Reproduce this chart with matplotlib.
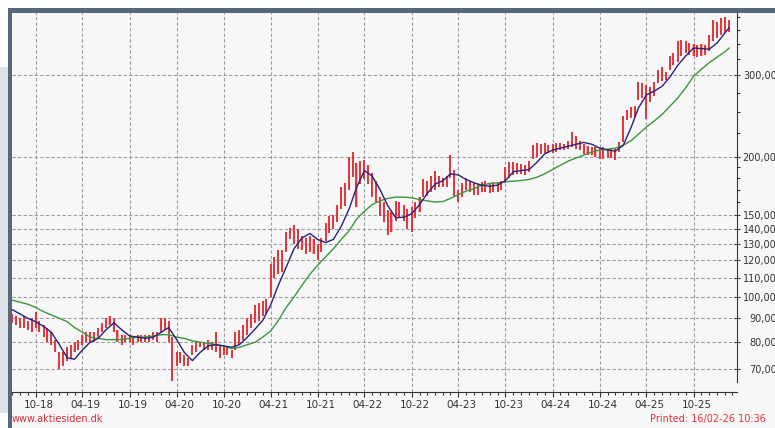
import numpy as np
import pandas as pd
import matplotlib
matplotlib.use('Agg')
import matplotlib.pyplot as plt
import matplotlib.dates as mdates
import matplotlib.transforms as mtransforms
from matplotlib.patches import Rectangle
from matplotlib.ticker import FixedLocator, NullFormatter

# half-monthly bars (1st and 15th), Jul-2018 .. Feb-2026
barStart = '2018-07-01'
lows = [88, 87, 86, 86, 85, 84, 86, 84, 82, 80, 79, 76,
        70, 71, 73, 74, 76, 77, 79, 80, 80, 80, 82, 84,
        86, 87, 84, 80, 79, 80, 80, 79, 80, 80, 80, 80,
        81, 80, 84, 85, 80, 66, 71, 72, 71, 71, 75, 76,
        78, 77, 77, 77, 76, 74, 75, 75, 74, 77, 79, 81,
        83, 86, 88, 89, 91, 92, 100, 110, 112, 113, 125, 133,
        130, 127, 126, 124, 125, 124, 120, 125, 132, 137, 140, 145,
        155, 157, 170, 181, 156, 175, 179, 175, 164, 160, 149, 145,
        136, 138, 146, 148, 146, 140, 138, 148, 152, 164, 165, 168,
        170, 172, 172, 172, 180, 165, 160, 164, 170, 168, 166, 166,
        168, 168, 167, 168, 168, 170, 176, 180, 183, 184, 184, 183,
        186, 198, 200, 203, 204, 204, 204, 205, 207, 207, 208, 210,
        208, 207, 203, 202, 202, 200, 198, 198, 199, 199, 197, 205,
        215, 240, 243, 244, 265, 268, 242, 262, 270, 288, 292, 293,
        308, 315, 320, 330, 335, 332, 330, 328, 330, 332, 338, 355,
        360, 365, 370, 372]
highs = [92, 91, 90, 91, 89, 90, 93, 89, 87, 86, 84, 81,
         76, 76, 78, 79, 80, 81, 83, 84, 84, 84, 86, 88,
         90, 91, 90, 85, 83, 83, 83, 82, 83, 83, 83, 83,
         84, 84, 90, 90, 89, 82, 76, 76, 75, 74, 79, 80,
         80, 80, 81, 80, 84, 79, 78, 78, 77, 84, 85, 87,
         90, 92, 96, 97, 98, 99, 118, 122, 126, 126, 138, 141,
         143, 140, 135, 134, 135, 133, 130, 134, 144, 149, 150, 158,
         172, 176, 200, 205, 194, 196, 197, 192, 185, 178, 164, 160,
         154, 152, 161, 160, 158, 155, 156, 160, 164, 179, 178, 182,
         187, 182, 180, 182, 202, 188, 170, 176, 180, 178, 177, 175,
         177, 178, 176, 177, 177, 178, 190, 195, 195, 194, 193, 192,
         196, 212, 214, 213, 214, 212, 213, 214, 214, 213, 216, 226,
         222, 216, 213, 211, 210, 210, 209, 210, 208, 209, 208, 215,
         245, 252, 256, 258, 290, 288, 285, 283, 290, 308, 312, 305,
         330, 335, 355, 357, 355, 352, 350, 348, 350, 348, 365, 395,
         390, 398, 400, 395]

# moving averages read at each month start, plus the last print day
maDates = list(pd.date_range('2018-07-01', '2026-02-01', freq='MS')) + [pd.Timestamp('2026-02-16')]
maShort = [94, 92, 90, 88.5, 86.5, 84, 79, 74, 73.5, 77, 80, 81.5,
           85, 88, 85, 82.5, 82, 81.5, 82, 84, 86, 81, 76, 73,
           76, 78.5, 79, 78.5, 78, 79, 82, 85.5, 89, 96, 106, 116,
           127, 134, 137, 133, 131, 133, 142, 155, 172, 187, 182, 170,
           157, 148, 148.5, 151, 158, 167, 175, 178, 184, 183, 179, 176,
           174, 173, 174, 178, 186, 187, 188, 195, 203, 207, 209, 211,
           213, 215, 213, 209, 207, 206, 212, 232, 255, 272, 277, 284,
           297, 315, 330, 343, 342, 341, 352, 370, 379]
maLong = [98.5, 97.5, 96.5, 95, 93, 91.5, 90, 88.5, 86, 84, 82, 81.5,
          81, 81, 81, 81.5, 82, 82, 82.5, 83, 83, 82, 81.5, 80.5,
          80, 79.5, 79, 78.5, 77.5, 78, 79, 80, 82, 84.5, 89, 95,
          100, 106, 112, 117, 122, 127, 133, 139, 147, 153, 158, 161,
          163, 164, 164, 163.5, 162, 161, 160, 160.5, 163, 166, 169, 171,
          174, 175.5, 176, 177, 177.5, 178, 179, 181, 184, 188, 192, 196,
          199, 202, 205, 207, 208, 209, 212, 217, 224, 232, 239, 247,
          257, 268, 282, 298, 309, 319, 328, 337, 343]

yTicks = [70, 80, 90, 100, 110, 120, 130, 140, 150, 200, 300]
yMinor = [160, 170, 180, 190, 225, 250, 275, 325, 350, 375, 400]


def main():
    W, H = 775.0, 428.0
    fig = plt.figure(figsize=(7.75, 4.28), dpi=100, facecolor='#f7f7f7')
    ax = fig.add_axes([12 / W, 1 - 392 / H, (737 - 12) / W, (392 - 12) / H])
    ax.set_facecolor('#f7f7f7')

    barDates = pd.date_range(barStart, periods=len(lows), freq='SMS')
    lo = np.array(lows, dtype=float)
    hi = np.array(highs, dtype=float)
    ax.bar(barDates, hi - lo, bottom=lo, width=8, color='#f4b0b0', linewidth=0, zorder=2)
    ax.vlines(barDates, lo, hi, color='#e3121c', linewidth=1.1, zorder=3)
    ax.plot(maDates, maLong, color='#3a963a', linewidth=1.0, zorder=4)
    ax.plot(maDates, maShort, color='#23237e', linewidth=1.0, zorder=5)

    ax.set_yscale('log')
    ax.set_ylim(62.5, 410)
    ax.set_xlim(pd.Timestamp('2018-07-01'), pd.Timestamp('2026-03-19'))

    ax.yaxis.tick_right()
    ax.yaxis.set_major_locator(FixedLocator(yTicks))
    ax.yaxis.set_minor_locator(FixedLocator(yMinor))
    ax.yaxis.set_minor_formatter(NullFormatter())
    ax.set_yticklabels(['%d,00' % v for v in yTicks])
    ax.tick_params(axis='y', which='major', direction='inout', length=5, width=0.8,
                   colors='#333333', labelsize=7, pad=26)
    ax.tick_params(axis='y', which='minor', direction='out', length=2.5, width=0.8, colors='#333333')
    for lbl in ax.get_yticklabels():
        lbl.set_horizontalalignment('right')

    ax.xaxis.set_major_locator(mdates.MonthLocator(bymonth=[4, 10]))
    ax.xaxis.set_minor_locator(mdates.MonthLocator())
    ax.xaxis.set_major_formatter(mdates.DateFormatter('%m-%y'))
    ax.tick_params(axis='x', which='major', direction='out', length=3.5, width=0.8,
                   colors='#333333', labelsize=7.5, pad=2.5)
    ax.tick_params(axis='x', which='minor', direction='out', length=2, width=0.8, colors='#333333')
    shift = mtransforms.ScaledTranslation(3 / 100, 0, fig.dpi_scale_trans)
    for lbl in ax.get_xticklabels():
        lbl.set_transform(lbl.get_transform() + shift)

    ax.grid(True, which='major', linestyle=(0, (3, 2)), color='#9c9c9c', linewidth=0.8, zorder=1)
    ax.set_axisbelow(True)

    for s in ['top', 'left']:
        ax.spines[s].set_visible(False)
    ax.spines['right'].set_color('#333333')
    ax.spines['bottom'].set_color('#333333')
    ax.spines['right'].set_bounds(65.6, 410)

    # page frame
    fig.add_artist(Rectangle((0, 0), 7.5 / W, 1, transform=fig.transFigure, color='white', lw=0))
    fig.add_artist(Rectangle((0, 1 - 8 / H), 1, 8 / H, transform=fig.transFigure, color='white', lw=0))
    fig.add_artist(Rectangle((0, 1 - 413 / H), 7.5 / W, (413 - 67) / H, transform=fig.transFigure,
                             color='#dde2e6', lw=0))
    fig.add_artist(Rectangle((7.5 / W, 1 - 12.5 / H), 1, 4.5 / H, transform=fig.transFigure,
                             color='#56697b', lw=0))
    fig.add_artist(Rectangle((7.5 / W, 0), 4.5 / W, 1 - 8 / H, transform=fig.transFigure,
                             color='#56697b', lw=0))

    fig.text(12 / W, 1 - 419 / H, 'www.aktiesiden.dk', color='#d4303c', fontsize=7, va='center')
    fig.text(650 / W, 1 - 419 / H, 'Printed: 16/02-26 10:36', color='#e6303a', fontsize=7, va='center')

    fig.savefig('out.png', dpi=100, facecolor=fig.get_facecolor())


if __name__ == "__main__":
    main()
